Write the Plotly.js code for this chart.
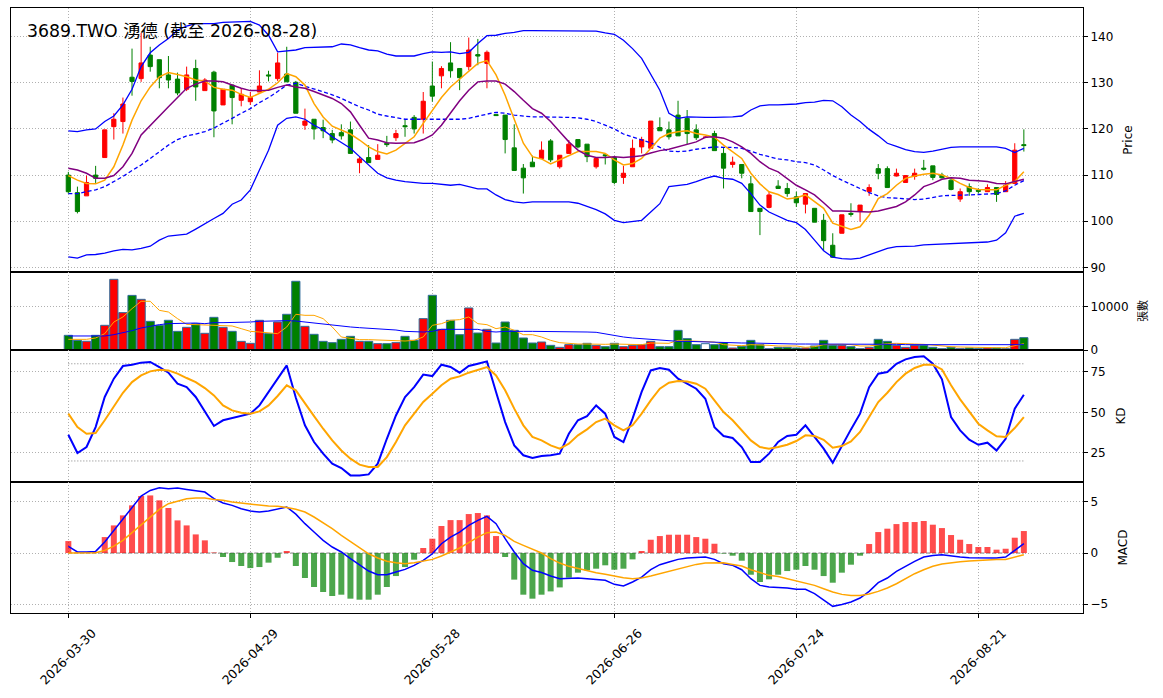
<!DOCTYPE html>
<html>
<head>
<meta charset="utf-8">
<script src="https://cdn.plot.ly/plotly-3.0.1.min.js"></script>
<style>
html, body { margin: 0; padding: 0; background: #fff; }
#chart { width: 1163px; height: 698px; }
</style>
</head>
<body>
<div id="chart"></div>
<script>
// trading days shown on the chart
var dates = [
  '2026-03-30','2026-03-31','2026-04-01','2026-04-02','2026-04-07','2026-04-08','2026-04-09','2026-04-10',
  '2026-04-13','2026-04-14','2026-04-15','2026-04-16','2026-04-17','2026-04-20','2026-04-21','2026-04-22',
  '2026-04-23','2026-04-24','2026-04-27','2026-04-28','2026-04-29','2026-04-30','2026-05-04','2026-05-05',
  '2026-05-06','2026-05-07','2026-05-08','2026-05-11','2026-05-12','2026-05-13','2026-05-14','2026-05-15',
  '2026-05-18','2026-05-19','2026-05-20','2026-05-21','2026-05-22','2026-05-25','2026-05-26','2026-05-27',
  '2026-05-28','2026-05-29','2026-06-01','2026-06-02','2026-06-03','2026-06-04','2026-06-05','2026-06-08',
  '2026-06-09','2026-06-10','2026-06-11','2026-06-12','2026-06-15','2026-06-16','2026-06-17','2026-06-18',
  '2026-06-22','2026-06-23','2026-06-24','2026-06-25','2026-06-26','2026-06-29','2026-06-30','2026-07-01',
  '2026-07-02','2026-07-03','2026-07-06','2026-07-07','2026-07-08','2026-07-09','2026-07-10','2026-07-13',
  '2026-07-14','2026-07-15','2026-07-16','2026-07-17','2026-07-20','2026-07-21','2026-07-22','2026-07-23',
  '2026-07-24','2026-07-27','2026-07-28','2026-07-29','2026-07-30','2026-07-31','2026-08-03','2026-08-04',
  '2026-08-05','2026-08-06','2026-08-07','2026-08-10','2026-08-11','2026-08-12','2026-08-13','2026-08-14',
  '2026-08-17','2026-08-18','2026-08-19','2026-08-20','2026-08-21','2026-08-24','2026-08-25','2026-08-26',
  '2026-08-27','2026-08-28'
];
var tickDates = ['2026-03-30','2026-04-29','2026-05-28','2026-06-26','2026-07-24','2026-08-21'];

var openP = [
  110.0,106.2,105.5,110.0,113.8,120.5,121.6,131.2,130.9,136.0,
  135.0,131.7,130.8,128.6,133.1,128.3,132.3,125.2,129.5,126.2,
  125.9,128.0,131.7,130.9,131.9,130.1,120.8,122.1,120.3,119.0,
  119.2,119.8,112.7,113.8,113.4,116.9,118.1,120.7,122.5,122.1,
  129.3,131.5,134.3,133.1,133.5,136.1,134.2,123.1,123.0,115.9,
  111.5,112.8,113.6,117.4,111.8,114.7,117.7,116.7,111.8,114.4,
  113.8,109.5,111.8,116.1,115.8,120.3,119.8,123.0,122.3,119.8,
  118.2,119.0,114.7,112.3,112.3,108.1,102.8,103.0,107.6,107.1,
  105.3,103.7,102.8,100.2,94.8,97.4,101.7,102.1,106.4,111.4,
  111.4,109.8,108.4,109.7,111.5,112.0,110.0,108.9,104.8,107.5,
  106.7,106.4,107.3,106.4,108.2,116.6
];
var highP = [
  110.7,107.5,109.9,112.0,119.8,123.4,126.8,137.4,140.8,137.8,
  135.0,135.8,132.2,133.5,135.0,131.0,132.6,128.6,129.5,128.8,
  128.0,132.7,132.6,136.5,137.8,130.4,124.4,122.1,122.0,119.8,
  121.0,121.6,114.0,116.5,116.7,118.5,119.8,122.0,123.0,128.0,
  134.6,133.6,138.8,133.1,139.8,139.5,137.0,123.1,123.0,121.0,
  112.4,114.2,117.3,117.8,114.3,117.6,117.7,116.7,113.6,114.4,
  113.8,112.0,117.7,118.3,121.7,122.5,121.6,126.1,124.1,121.0,
  118.4,119.6,116.1,114.0,112.3,109.8,102.8,106.4,108.9,108.3,
  106.4,106.0,102.8,101.6,97.4,101.4,103.9,103.5,108.0,112.4,
  111.9,111.4,109.9,111.4,113.3,112.0,110.5,109.3,107.1,108.2,
  107.1,108.0,107.3,108.7,116.9,119.9
];
var lowP = [
  106.0,101.7,105.5,108.3,113.8,117.7,119.0,127.2,130.2,132.4,
  128.8,128.8,127.3,128.2,126.1,128.3,118.2,125.2,121.0,124.9,
  125.2,128.0,130.3,130.4,130.2,123.4,119.8,117.7,118.0,116.9,
  117.7,114.7,110.4,112.7,113.4,116.1,117.4,118.3,119.0,119.0,
  125.9,128.8,131.1,128.4,132.7,133.8,128.8,122.9,114.7,111.0,
  106.0,111.8,113.6,112.8,111.4,114.7,115.8,112.8,111.4,112.3,
  108.0,108.1,111.8,114.7,115.8,119.6,117.7,118.5,116.7,117.6,
  118.0,115.3,107.1,111.6,109.3,102.1,97.0,102.8,107.1,105.3,
  103.1,101.7,99.8,93.6,92.2,97.4,101.0,99.9,105.5,109.1,
  107.3,109.7,108.4,109.0,111.0,108.9,109.3,106.7,104.2,105.5,
  106.0,106.4,104.2,106.4,108.2,115.1
];
var closeP = [
  106.4,102.1,108.4,109.3,119.8,122.1,125.4,130.3,134.3,133.5,
  131.1,130.6,127.8,131.7,129.1,130.6,123.9,128.6,126.8,127.5,
  126.8,129.3,131.5,134.3,130.2,123.4,121.7,120.0,119.6,117.6,
  118.5,114.7,113.5,112.7,114.3,116.6,119.0,120.5,120.0,126.0,
  127.1,133.1,132.6,131.1,137.1,135.8,136.6,122.9,117.7,111.0,
  109.4,111.8,115.4,113.3,114.3,116.7,116.1,114.0,113.6,114.2,
  108.4,110.4,115.8,117.7,121.7,119.6,118.3,118.5,119.0,118.1,
  118.2,115.3,111.5,112.8,110.4,102.1,102.1,105.7,107.1,106.0,
  104.0,106.0,99.8,95.8,92.2,101.4,101.5,103.5,107.3,110.4,
  107.3,110.4,109.9,110.4,111.3,109.5,109.4,106.9,106.4,106.4,
  106.5,107.3,105.8,107.8,115.4,116.4
];

var bbUpper = [
  119.6,119.4,119.8,120.0,121.6,122.8,125.2,128.6,133.5,136.5,
  138.2,139.6,141.4,142.3,142.8,142.8,142.8,143.1,143.2,143.3,
  143.3,142.5,140.3,136.7,136.9,137.1,137.6,137.7,137.7,137.8,
  138.4,138.2,137.6,137.1,136.9,136.2,135.8,135.8,135.8,136.3,
  136.7,136.6,136.7,136.3,136.6,138.5,140.2,140.3,140.7,140.9,
  141.3,141.3,141.3,141.3,141.3,141.3,141.3,141.3,141.2,140.8,
  140.5,139.2,137.4,135.3,132.0,128.4,123.4,122.3,122.6,122.5,
  122.5,122.5,122.5,122.6,122.8,124.1,125.0,125.2,125.2,125.3,
  125.4,125.7,125.8,126.2,126.1,124.8,123.0,121.6,119.9,118.5,
  116.9,116.2,115.5,115.1,114.9,115.2,115.6,116.0,116.1,116.1,
  116.1,116.1,116.1,115.8,114.9,115.8
];
var bbMid = [
  106.0,106.0,106.4,106.8,107.5,108.6,109.7,111.0,112.2,113.6,
  115.1,116.5,117.7,118.5,118.9,119.4,120.2,121.2,122.3,123.4,
  124.4,125.7,126.8,128.1,129.5,129.9,129.3,128.6,128.1,127.4,
  126.6,125.7,124.8,124.1,123.2,122.8,122.4,122.1,122.1,122.1,
  122.1,122.1,122.1,122.1,122.3,122.8,123.2,123.6,123.4,123.0,
  122.8,122.6,122.6,122.6,122.6,122.5,122.4,122.1,121.6,120.8,
  120.0,118.9,118.3,117.7,117.0,116.0,115.2,115.1,115.2,115.6,
  115.9,116.1,116.0,116.0,115.8,115.1,114.5,114.0,113.5,113.3,
  112.9,112.7,112.2,111.1,109.9,108.9,108.0,107.1,106.2,105.5,
  105.1,105.0,104.8,104.7,104.8,105.2,105.5,105.6,105.6,105.7,
  105.8,105.9,106.0,106.6,107.8,108.8
];
var bbLower = [
  92.3,92.0,92.7,92.8,93.1,93.6,93.9,93.8,94.1,94.6,
  95.9,96.8,97.0,97.2,98.3,99.5,100.6,101.7,103.7,104.6,
  106.8,111.1,115.4,120.8,122.3,122.6,122.1,120.8,119.8,118.3,
  117.0,115.8,114.0,112.2,110.4,109.4,108.9,108.6,108.4,108.2,
  108.2,108.0,107.8,108.0,107.5,107.0,107.0,105.7,104.7,104.2,
  104.0,104.2,104.2,104.2,104.2,104.2,103.9,103.2,102.5,101.6,
  100.2,99.7,99.9,100.2,102.0,103.8,107.5,107.8,108.0,108.6,
  109.3,109.8,109.3,109.1,108.2,106.0,103.5,102.0,101.1,100.2,
  99.7,98.2,95.9,93.6,92.2,91.9,91.8,92.0,92.7,93.4,
  94.1,94.5,94.5,94.6,94.9,95.0,95.0,95.2,95.2,95.3,
  95.4,95.5,95.9,97.5,101.1,101.7
];
var ma5 = [
  109.9,108.9,108.2,108.1,108.9,111.8,116.5,121.9,126.1,129.1,
  131.3,132.2,131.8,131.3,130.6,130.4,129.0,128.6,128.4,127.5,
  126.8,127.7,128.6,130.0,132.0,131.3,129.5,125.5,122.6,120.6,
  119.8,118.9,117.6,116.1,115.1,114.6,115.4,116.9,118.3,121.2,
  124.1,126.8,129.1,130.8,132.7,134.2,134.8,131.7,127.3,121.9,
  116.9,114.0,113.5,112.4,113.3,114.3,115.1,115.1,115.1,114.7,
  113.3,112.2,112.5,113.6,115.8,118.0,119.0,119.4,119.6,119.0,
  118.7,118.2,116.5,115.1,113.6,110.4,108.1,106.4,105.8,104.8,
  105.1,105.7,104.2,102.8,99.6,98.9,98.2,98.8,101.3,104.9,
  106.0,107.8,109.3,109.8,110.2,110.4,110.0,109.3,108.2,107.3,
  106.9,106.8,106.8,107.8,108.6,110.7
];
var ma10 = [
  111.5,111.1,110.4,109.3,109.3,109.9,111.8,114.7,118.7,120.8,
  122.8,124.8,126.8,128.8,129.7,130.4,130.4,130.2,129.5,128.8,
  128.3,128.4,128.4,129.0,129.5,129.1,128.8,128.1,127.3,126.6,
  125.5,123.7,120.8,118.0,117.6,117.0,116.9,116.9,117.0,117.7,
  118.7,120.8,123.4,126.1,128.4,130.2,130.4,130.4,129.7,128.1,
  126.2,124.4,123.4,121.6,119.4,117.2,115.4,114.3,113.8,113.8,
  114.0,113.8,114.0,114.2,114.8,115.3,115.6,116.1,116.7,117.2,
  118.2,118.3,118.0,117.2,116.1,114.7,112.9,111.5,110.7,109.3,
  107.8,106.8,105.7,104.0,102.2,102.2,102.1,102.1,102.0,102.2,
  102.7,103.2,104.2,105.7,107.5,108.2,109.1,109.4,109.3,108.9,
  108.8,108.6,108.2,108.1,108.6,109.1
];

// volume in 張
var volume = [
  3360,2200,2000,3360,5650,16180,8550,12500,11600,6560,
  5650,6800,4270,5190,6030,3820,7480,5190,4270,1980,
  1530,6800,3740,6410,8170,15730,5420,3590,1980,1680,
  2440,3130,1980,1980,1450,1450,1680,3130,2210,7180,
  12520,4730,6790,3510,9620,3890,4730,1600,6410,4500,
  2750,1600,1830,1070,610,1220,1220,1530,1070,760,
  1530,760,1070,1220,1980,760,760,4500,2600,1220,
  1450,1220,1680,460,840,2210,1220,300,610,610,
  460,460,920,2210,1070,1070,760,300,610,2440,
  1980,1070,610,1070,1070,610,300,610,300,460,
  300,460,460,300,2440,2820
];
var volMa5 = [
  2440,2440,2440,2750,3740,6410,7560,9470,11150,11150,
  9080,8700,7180,5880,5800,5650,5650,5650,5500,4890,
  4270,4120,3970,3740,5270,8170,7940,7940,7180,5270,
  2980,2600,2370,2370,2290,2210,2130,2060,2210,2980,
  5650,6030,6800,6950,7560,6030,5800,4890,5270,4500,
  3510,3510,2980,2210,1680,1450,1370,1370,1300,1300,
  1370,1300,1220,1220,1600,1530,1530,2210,2130,2130,
  2060,1830,1220,1070,990,1220,1220,1070,920,920,
  920,610,760,1220,1300,1300,1220,920,920,1220,
  1450,1530,1530,1370,1300,1070,920,760,690,610,
  610,530,530,530,920,1450
];
var volMa20 = [
  3210,3210,3210,3210,3210,3510,3890,4430,5040,5500,
  5800,6030,6110,6180,6180,6030,6260,6260,6260,6260,
  6410,6560,6640,6720,6720,6640,6410,6180,5800,5650,
  5500,5270,5110,4970,4890,4730,4580,4270,4120,4120,
  4270,4730,4730,4730,4730,4730,4270,4120,4270,4350,
  4270,4270,4270,4270,4270,4270,4200,4120,4050,3660,
  3210,2980,2750,2600,2370,2210,1980,1980,1980,1900,
  1830,1830,1760,1680,1600,1600,1530,1530,1450,1450,
  1370,1370,1370,1450,1450,1450,1370,1300,1300,1300,
  1300,1300,1220,1220,1220,1140,1140,1070,1070,1070,
  1070,1070,1070,1070,1140,1220
];

var kLine = [
  36.2,24.9,28.6,40.9,59.5,70.8,78.6,79.4,80.7,81.1,
  78.0,74.5,67.7,65.6,59.5,50.2,41.6,45.1,46.5,48.1,
  49.2,54.3,62.6,71.2,79.0,59.0,42.0,31.7,24.5,18.3,
  15.6,11.1,11.1,11.7,18.3,33.7,48.1,59.5,65.6,73.3,
  72.4,79.4,78.0,74.5,78.6,80.0,81.5,62.6,44.0,29.6,
  23.5,21.8,23.0,23.5,24.5,36.8,45.1,47.7,54.3,49.2,
  34.8,31.7,46.1,62.6,75.9,77.4,76.3,70.8,67.7,64.6,
  58.4,40.9,35.4,34.2,28.6,19.3,19.3,24.5,31.7,35.4,
  36.2,42.0,34.8,27.6,18.9,29.6,39.5,49.2,65.6,73.9,
  74.9,80.0,82.7,84.2,84.6,80.0,70.4,47.1,38.9,33.1,
  30.0,31.3,26.5,33.7,52.3,60.9
];
var dLine = [
  49.2,40.9,36.8,37.2,45.1,53.3,62.1,68.7,72.8,75.3,
  76.3,75.9,73.9,71.2,68.7,65.0,60.5,54.3,51.2,49.8,
  49.2,50.6,54.3,60.1,66.7,63.6,55.3,47.7,39.9,32.7,
  26.5,21.4,17.7,16.3,16.3,22.4,31.7,42.0,49.2,56.4,
  61.5,66.7,70.8,72.2,74.5,76.3,78.0,72.8,63.6,52.3,
  42.0,34.8,32.7,29.6,27.6,30.7,35.8,39.5,44.0,46.1,
  42.0,38.9,42.0,49.2,57.4,64.6,68.3,69.3,69.1,67.7,
  64.6,57.4,50.2,45.1,38.9,32.7,28.6,27.6,28.6,30.0,
  32.3,35.8,35.4,33.1,28.2,29.2,32.1,37.9,47.1,56.4,
  62.1,68.7,73.9,77.4,79.4,79.4,76.5,66.7,58.0,50.2,
  43.0,38.9,35.2,34.8,40.3,47.1
];
var kdLevels = [20, 80];

var macdLine = [
  0.65,0.10,0.10,0.16,1.07,2.21,3.29,4.50,5.57,6.12,
  6.38,6.29,6.35,6.22,6.12,5.96,5.31,4.89,4.66,4.33,
  4.10,4.01,4.10,4.27,4.50,3.80,2.87,2.05,1.24,0.59,
  0.10,-0.55,-1.20,-1.76,-2.12,-2.12,-1.86,-1.60,-1.20,-0.72,
  -0.07,0.91,1.56,2.05,2.70,3.19,3.58,2.87,1.40,0.10,
  -1.04,-1.69,-1.90,-2.25,-2.51,-2.44,-2.44,-2.51,-2.60,-2.67,
  -3.06,-3.22,-2.83,-2.35,-1.63,-1.14,-0.88,-0.62,-0.49,-0.42,
  -0.39,-0.62,-1.04,-1.20,-1.63,-2.51,-3.16,-3.32,-3.36,-3.42,
  -3.55,-3.55,-3.97,-4.63,-5.21,-5.02,-4.79,-4.40,-3.75,-2.90,
  -2.44,-1.79,-1.27,-0.81,-0.39,-0.23,-0.16,-0.29,-0.39,-0.46,
  -0.49,-0.46,-0.49,-0.39,0.26,0.91
];
var signalLine = [
  0,0,0,0.03,0.26,0.68,1.24,1.99,2.77,3.58,
  4.27,4.82,5.05,5.31,5.37,5.37,5.24,5.15,4.98,4.89,
  4.76,4.66,4.59,4.56,4.46,4.27,4.01,3.52,2.96,2.38,
  1.73,1.14,0.52,-0.07,-0.49,-0.81,-0.94,-1.04,-0.94,-0.81,
  -0.62,-0.29,0.10,0.49,1.01,1.56,1.99,2.05,1.73,1.14,
  0.75,0.36,0,-0.55,-0.98,-1.30,-1.53,-1.73,-1.92,-2.08,
  -2.25,-2.41,-2.51,-2.44,-2.25,-2.02,-1.79,-1.53,-1.30,-1.11,
  -0.98,-0.94,-0.94,-1.11,-1.27,-1.63,-1.92,-2.18,-2.30,-2.51,
  -2.74,-2.93,-3.16,-3.49,-3.81,-4.04,-4.14,-4.14,-4.01,-3.75,
  -3.42,-3.00,-2.51,-2.02,-1.63,-1.30,-1.07,-0.94,-0.85,-0.78,
  -0.72,-0.68,-0.62,-0.62,-0.39,-0.16
];
var macdHist = [
  1.17,0.05,0.05,0.10,1.56,2.70,3.68,4.66,5.57,5.63,
  5.15,4.40,3.19,2.70,1.82,1.24,0.05,-0.39,-0.88,-1.27,
  -1.47,-1.37,-0.94,-0.46,0.20,-1.27,-2.44,-3.32,-3.81,-4.20,
  -4.07,-4.46,-4.56,-4.56,-4.07,-3.32,-2.25,-1.37,-0.65,0.49,
  1.40,2.64,3.22,3.22,3.81,3.91,3.68,1.66,-0.39,-2.60,
  -4.07,-4.46,-4.07,-3.75,-3.36,-2.41,-1.92,-1.69,-1.53,-1.20,
  -1.63,-1.53,-0.62,0.20,1.30,1.66,1.79,1.79,1.79,1.56,
  1.40,0.91,-0.05,-0.26,-0.75,-2.12,-2.83,-2.57,-2.12,-1.76,
  -1.63,-1.27,-1.63,-2.25,-2.90,-1.92,-1.14,-0.26,0.88,2.05,
  2.38,2.83,3.03,3.03,3.13,2.77,2.44,1.76,1.30,0.88,
  0.59,0.59,0.33,0.42,1.50,2.15
];

var font = 'DejaVu Sans, Noto Sans CJK TC, sans-serif';
var xRange = [-6.3, 111.5];
var gridDash = '1px,2px';

// colours for volume and histogram bars
var volColors = closeP.map(function(c, i) {
  if (c > openP[i]) return '#ff0000';
  if (c < openP[i]) return '#008000';
  return '#ffffff';
});
var histColors = macdHist.map(function(v) {
  return v >= 0 ? 'rgba(255,0,0,0.7)' : 'rgba(0,128,0,0.7)';
});

function line(y, color, width, xa, ya, dash) {
  return {
    type: 'scatter', mode: 'lines', x: dates, y: y,
    xaxis: xa, yaxis: ya, hoverinfo: 'skip', showlegend: false,
    line: {color: color, width: width, dash: dash || 'solid'}
  };
}

var data = [
  {
    type: 'candlestick', x: dates, open: openP, high: highP, low: lowP, close: closeP,
    xaxis: 'x', yaxis: 'y', whiskerwidth: 0, showlegend: false, hoverinfo: 'skip',
    increasing: {line: {color: '#ff0000', width: 1}, fillcolor: '#ff0000'},
    decreasing: {line: {color: '#008000', width: 1}, fillcolor: '#008000'}
  },
  line(bbUpper, '#0000ff', 1.3, 'x', 'y'),
  line(bbLower, '#0000ff', 1.3, 'x', 'y'),
  line(bbMid, '#0000ff', 1.3, 'x', 'y', '4px,2.5px'),
  line(ma5, '#ffa500', 1.5, 'x', 'y'),
  line(ma10, '#800080', 1.5, 'x', 'y'),
  {
    type: 'bar', x: dates, y: volume, xaxis: 'x2', yaxis: 'y2', width: 0.9,
    marker: {color: volColors, line: {color: '#2f6b9a', width: 1}},
    hoverinfo: 'skip', showlegend: false
  },
  line(volMa5, '#ffa500', 1, 'x2', 'y2'),
  line(volMa20, '#0000ff', 1, 'x2', 'y2'),
  line(kLine, '#0000ff', 2, 'x3', 'y3'),
  line(dLine, '#ffa500', 2, 'x3', 'y3'),
  {
    type: 'bar', x: dates, y: macdHist, xaxis: 'x4', yaxis: 'y4', width: 0.66,
    marker: {color: histColors}, hoverinfo: 'skip', showlegend: false
  },
  line(macdLine, '#0000ff', 1.5, 'x4', 'y4'),
  line(signalLine, '#ffa500', 1.5, 'x4', 'y4')
];

function xax(anchor, last) {
  var ax = {
    anchor: anchor, type: 'category', range: xRange,
    tickvals: tickDates, showticklabels: false,
    ticks: last ? 'outside' : '', ticklen: 4, tickcolor: '#000',
    showgrid: true, gridcolor: '#b0b0b0', griddash: gridDash, gridwidth: 1,
    showline: true, mirror: true, linecolor: '#000', linewidth: 1,
    zeroline: false, fixedrange: true
  };
  if (anchor !== 'y') ax.matches = 'x';
  return ax;
}

function yax(anchor, domain, range, tickvals, ticktext, title, titleSize) {
  return {
    anchor: anchor, domain: domain, range: range, side: 'right',
    tickvals: tickvals, ticktext: ticktext,
    ticks: 'outside', ticklen: 4, tickcolor: '#000',
    tickfont: {size: 12, color: '#000'},
    showgrid: true, gridcolor: '#b0b0b0', griddash: gridDash, gridwidth: 1,
    showline: true, mirror: true, linecolor: '#000', linewidth: 1,
    zeroline: false, fixedrange: true,
    title: {text: title, font: {size: titleSize, color: '#000'}, standoff: 11}
  };
}

var shapes = kdLevels.map(function(v) {
  return {
    type: 'line', xref: 'x3', yref: 'y3', x0: dates[0], x1: dates[dates.length - 1],
    y0: v, y1: v, layer: 'below', line: {color: '#808080', width: 1, dash: '1px,2px'}
  };
});
shapes.push({
  type: 'line', xref: 'x4', yref: 'y4', x0: dates[0], x1: dates[dates.length - 1],
  y0: 0, y1: 0, layer: 'below', line: {color: '#808080', width: 1, dash: '4px,2px'}
});

// rotated date labels centred under their ticks
var annotations = tickDates.map(function(d) {
  return {
    text: d, xref: 'x4', yref: 'paper', x: d, y: -0.0727,
    xanchor: 'center', yanchor: 'middle', textangle: -45, showarrow: false,
    font: {family: font, size: 12.5, color: '#000'}
  };
});
annotations.push({
  text: '3689.TWO 湧德 (截至 2026-08-28)', xref: 'paper', yref: 'paper',
  x: 0.0135, y: 0.962, xanchor: 'left', yanchor: 'middle', showarrow: false,
  font: {family: font, size: 17.3, color: '#000'}
});

var layout = {
  width: 1163, height: 698,
  margin: {l: 11, r: 80, t: 8, b: 85},
  paper_bgcolor: '#fff', plot_bgcolor: '#fff',
  font: {family: font, size: 12, color: '#000'},
  showlegend: false, boxgap: 0.34,
  xaxis: Object.assign(xax('y', false), {rangeslider: {visible: false}}),
  xaxis2: xax('y2', false),
  xaxis3: xax('y3', false),
  xaxis4: xax('y4', true),
  yaxis: yax('x', [0.5636, 1], [89.0, 146.2], [90, 100, 110, 120, 130, 140], null, 'Price', 12),
  yaxis2: yax('x2', [0.4347, 0.5636], [0, 17850], [0, 10000], ['0', '10000'], '張數', 11),
  yaxis3: yax('x3', [0.2165, 0.4347], [7.0, 88.5], [25, 50, 75], null, 'KD', 12),
  yaxis4: yax('x4', [0, 0.2165], [-5.86, 6.94], [-5, 0, 5], null, 'MACD', 12),
  shapes: shapes,
  annotations: annotations
};

Plotly.newPlot('chart', data, layout, {staticPlot: true, displayModeBar: false});
</script>
</body>
</html>
